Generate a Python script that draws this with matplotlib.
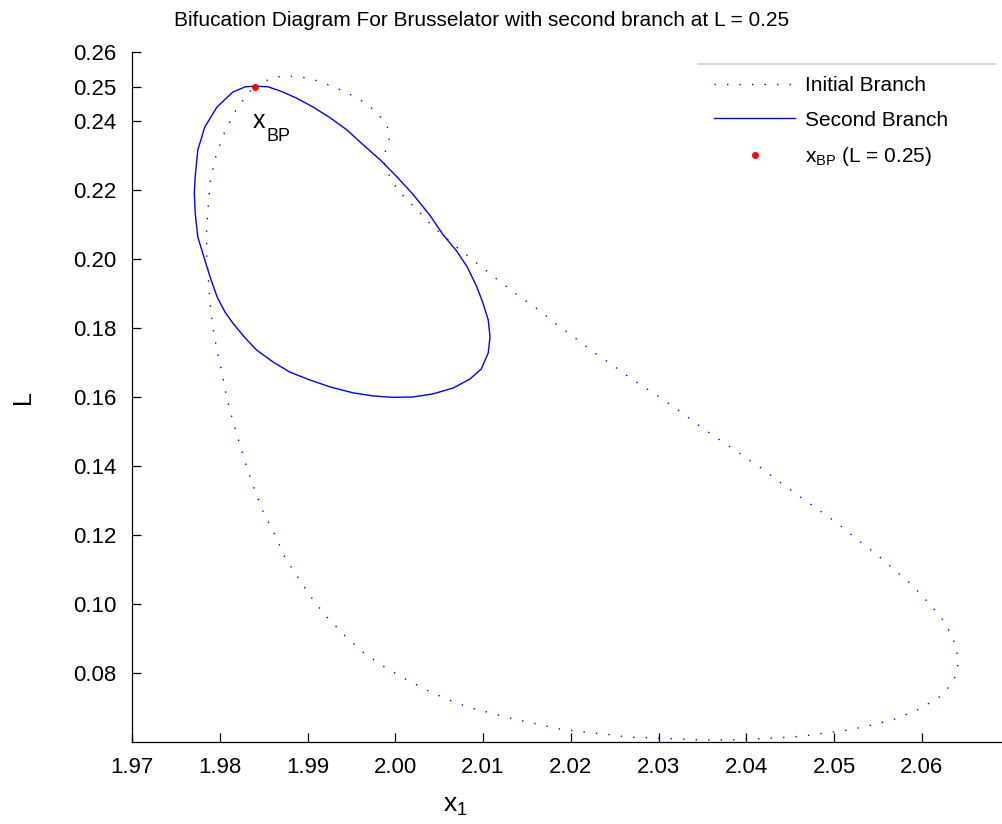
import matplotlib
matplotlib.use("Agg")
import matplotlib.pyplot as plt
from matplotlib.lines import Line2D

plt.rcParams["font.family"] = ["Liberation Sans", "DejaVu Sans"]
plt.rcParams["mathtext.fontset"] = "custom"
plt.rcParams["mathtext.rm"] = "Liberation Sans"
plt.rcParams["mathtext.it"] = "Liberation Sans"

# initial branch (closed loop)
x_init = [1.9840, 1.9852, 1.9865, 1.9878, 1.9891, 1.9905, 1.9918, 1.9930, 1.9943, 1.9954,
          1.9966, 1.9977, 1.9986, 1.9993, 1.9993, 1.9989, 1.9987, 1.9992, 1.9997, 2.0005,
          2.0015, 2.0025, 2.0034, 2.0043, 2.0054, 2.0074, 2.0097, 2.0117, 2.0139, 2.0162,
          2.0183, 2.0205, 2.0226, 2.0249, 2.0271, 2.0294, 2.0327, 2.0350, 2.0372, 2.0395,
          2.0417, 2.0438, 2.0460, 2.0483, 2.0505, 2.0526, 2.0548, 2.0568, 2.0589, 2.0609,
          2.0627, 2.0638, 2.0641, 2.0641, 2.0637, 2.0629, 2.0619, 2.0595, 2.0570, 2.0543,
          2.0517, 2.0490, 2.0464, 2.0436, 2.0409, 2.0381, 2.0348, 2.0321, 2.0294, 2.0266,
          2.0239, 2.0214, 2.0187, 2.0162, 2.0134, 2.0109, 2.0083, 2.0058, 2.0033, 2.0009,
          1.9986, 1.9963, 1.9943, 1.9921, 1.9904, 1.9889, 1.9874, 1.9863, 1.9850, 1.9840,
          1.9831, 1.9823, 1.9815, 1.9808, 1.9803, 1.9797, 1.9792, 1.9789, 1.9787, 1.9785,
          1.9785, 1.9787, 1.9789, 1.9795, 1.9804, 1.9817, 1.9830, 1.9840]
L_init = [0.2504, 0.2516, 0.2528, 0.2530, 0.2528, 0.2522, 0.2510, 0.2499, 0.2484, 0.2470,
          0.2452, 0.2429, 0.2403, 0.2374, 0.2345, 0.2316, 0.2281, 0.2249, 0.2223, 0.2194,
          0.2168, 0.2142, 0.2119, 0.2093, 0.2070, 0.2026, 0.1980, 0.1939, 0.1896, 0.1855,
          0.1812, 0.1771, 0.1730, 0.1690, 0.1649, 0.1612, 0.1554, 0.1510, 0.1472, 0.1432,
          0.1394, 0.1354, 0.1313, 0.1272, 0.1232, 0.1188, 0.1145, 0.1101, 0.1055, 0.1000,
          0.0945, 0.0884, 0.0849, 0.0814, 0.0783, 0.0754, 0.0728, 0.0693, 0.0667, 0.0649,
          0.0635, 0.0626, 0.0617, 0.0612, 0.0609, 0.0606, 0.0606, 0.0609, 0.0612, 0.0614,
          0.0623, 0.0629, 0.0638, 0.0652, 0.0667, 0.0684, 0.0701, 0.0725, 0.0754, 0.0786,
          0.0820, 0.0861, 0.0907, 0.0965, 0.1020, 0.1078, 0.1136, 0.1200, 0.1264, 0.1328,
          0.1394, 0.1461, 0.1530, 0.1597, 0.1664, 0.1733, 0.1803, 0.1872, 0.1945, 0.2014,
          0.2084, 0.2157, 0.2223, 0.2293, 0.2359, 0.2426, 0.2472, 0.2504]

# second branch starting at the branch point
x_second = [1.9840, 1.9855, 1.9869, 1.9887, 1.9906, 1.9926, 1.9945, 1.9963, 1.9983, 2.0002,
            2.0020, 2.0040, 2.0054, 2.0070, 2.0082, 2.0093, 2.0100, 2.0106, 2.0108, 2.0106,
            2.0098, 2.0085, 2.0066, 2.0043, 2.0020, 1.9997, 1.9975, 1.9952, 1.9926, 1.9903,
            1.9880, 1.9861, 1.9842, 1.9829, 1.9815, 1.9806, 1.9797, 1.9789, 1.9783, 1.9775,
            1.9772, 1.9771, 1.9772, 1.9775, 1.9783, 1.9797, 1.9815, 1.9829, 1.9840]
L_second = [0.2501, 0.2499, 0.2487, 0.2467, 0.2441, 0.2409, 0.2374, 0.2332, 0.2287, 0.2238,
            0.2188, 0.2125, 0.2072, 0.2023, 0.1977, 0.1919, 0.1872, 0.1823, 0.1774, 0.1728,
            0.1681, 0.1652, 0.1626, 0.1609, 0.1600, 0.1599, 0.1603, 0.1612, 0.1629, 0.1649,
            0.1672, 0.1701, 0.1736, 0.1771, 0.1814, 0.1846, 0.1890, 0.1948, 0.1997, 0.2064,
            0.2133, 0.2191, 0.2238, 0.2316, 0.2383, 0.2441, 0.2484, 0.2499, 0.2501]

x_bp = 1.9840
L_bp = 0.25

xticks = [1.97, 1.98, 1.99, 2.00, 2.01, 2.02, 2.03, 2.04, 2.05, 2.06]
yticks = [0.08, 0.10, 0.12, 0.14, 0.16, 0.18, 0.20, 0.22, 0.24, 0.25, 0.26]

fig = plt.figure(figsize=(10.03, 8.24), dpi=100)
ax = fig.add_axes([132 / 1003, 82 / 824, 877.5 / 1003, 690 / 824])

ax.plot(x_init, L_init, color="#0000ff", linewidth=1.0,
        linestyle=(0, (1, 8)), label="Initial Branch")
ax.plot(x_second, L_second, color="#0000ff", linewidth=1.0, label="Second Branch")
ax.plot([x_bp], [L_bp], "o", color="red", markersize=4, linestyle="none",
        label=r"$\mathrm{x}_{\mathrm{BP}}$ (L = 0.25)")

# x_BP label under the branch point
ax.text(1.9838, 0.2380, "x", fontsize=18, ha="left", va="baseline")
ax.annotate("BP", xy=(1.9838, 0.2380), xytext=(10, -9.4), textcoords="offset points",
            fontsize=13, ha="left", va="baseline")

ax.set_xlim(1.97, 2.07)
ax.set_ylim(0.06, 0.26)
ax.set_xticks(xticks)
ax.set_xticklabels([f"{v:.2f}" for v in xticks])
ax.set_yticks(yticks)
ax.set_yticklabels([f"{v:.2f}" for v in yticks])
ax.tick_params(direction="in", length=6.5, width=0.9, labelsize=16)
ax.tick_params(axis="x", pad=10.5)
ax.tick_params(axis="y", pad=11.5)
for s in ["top", "right"]:
    ax.spines[s].set_visible(False)
for s in ["left", "bottom"]:
    ax.spines[s].set_linewidth(0.9)

ax.set_xlabel(r"$\mathrm{x}_1$", fontsize=19)
ax.xaxis.set_label_coords((455 - 132) / 877.5, -0.075)
ax.set_ylabel("L", fontsize=18)
ax.yaxis.set_label_coords((35 - 132) / 877.5, 0.5)

fig.text(482 / 1003, 1 - 20 / 824, "Bifucation Diagram For Brusselator with second branch at L = 0.25",
         fontsize=15, ha="center", va="center")

leg = ax.legend(loc="upper left", bbox_to_anchor=(714 / 1003, 1 - 76 / 824),
                bbox_transform=fig.transFigure, frameon=False, fontsize=15,
                handlelength=3.9, handletextpad=0.45, borderpad=0, borderaxespad=0,
                labelspacing=0.75)

fig.add_artist(Line2D([698 / 1003, 996 / 1003], [1 - 64 / 824, 1 - 64 / 824],
                      transform=fig.transFigure, color="#d0d0d0", linewidth=1.2))

fig.savefig("out.png", dpi=100)
